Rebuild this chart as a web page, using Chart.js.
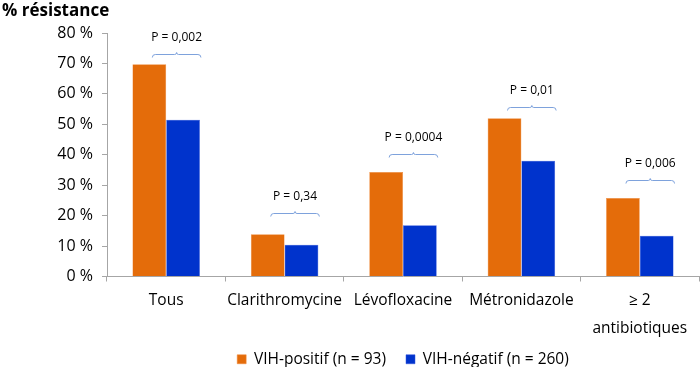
<!DOCTYPE html>
<html><head><meta charset="utf-8">
<script src="https://cdn.jsdelivr.net/npm/chart.js@4/dist/chart.umd.min.js"></script>
<style>html,body{margin:0;padding:0;background:#fff}#wrap{width:700px;height:367px}</style>
</head><body><div id="wrap"><canvas id="c"></canvas></div>
<script>
const categories = ['Tous', 'Clarithromycine', 'Lévofloxacine', 'Métronidazole', ['≥ 2', 'antibiotiques']];
const vihPositif = [69.7, 13.9, 34.3, 52.0, 25.8];
const vihNegatif = [51.5, 10.4, 16.8, 38.0, 13.4];
const seriesNames = ['VIH-positif (n = 93)', 'VIH-négatif (n = 260)'];
const pLabels = ['P = 0,002', 'P = 0,34', 'P = 0,0004', 'P = 0,01', 'P = 0,006'];
const pLevels = [73, 20.8, 40.3, 55.8, 31.6];
const yTicks = [0, 10, 20, 30, 40, 50, 60, 70, 80];
const yTitle = '% résistance';

const FONT = '"Open Sans", "Noto Sans", sans-serif';
const ORANGE = '#E46C0A', BLUE = '#0033CC', AXIS = '#A6A6A6', BRACKET = '#7EA2DC';

const annot = {
  id: 'annot',
  afterLayout(chart) {
    const lg = chart.legend;
    if (lg) { lg.top -= 7; lg.bottom -= 7; }
  },
  afterDatasetsDraw(chart) {
    const ctx = chart.ctx, y = chart.scales.y;
    const m0 = chart.getDatasetMeta(0), m1 = chart.getDatasetMeta(1);
    ctx.save();
    categories.forEach((c, i) => {
      const b0 = m0.data[i], b1 = m1.data[i];
      const x1 = b0.x + 3, x2 = b1.x + b1.width / 2 + 1, xm = (x1 + x2) / 2;
      const yy = Math.round(y.getPixelForValue(pLevels[i])) + 0.5;
      ctx.strokeStyle = BRACKET; ctx.lineWidth = 1;
      ctx.beginPath();
      ctx.moveTo(x1, yy + 3);
      ctx.quadraticCurveTo(x1, yy, x1 + 3, yy);
      ctx.lineTo(xm - 2, yy);
      ctx.quadraticCurveTo(xm, yy, xm, yy - 2);
      ctx.quadraticCurveTo(xm, yy, xm + 2, yy);
      ctx.lineTo(x2 - 3, yy);
      ctx.quadraticCurveTo(x2, yy, x2, yy + 3);
      ctx.stroke();
      ctx.fillStyle = '#000';
      ctx.font = '12px ' + FONT;
      ctx.textAlign = 'center'; ctx.textBaseline = 'middle';
      ctx.fillText(pLabels[i], xm, yy - 17);
    });
    ctx.font = 'bold 17px ' + FONT;
    ctx.textAlign = 'left'; ctx.textBaseline = 'middle';
    ctx.fillStyle = '#000';
    ctx.fillText(yTitle, 2, 11);
    ctx.restore();
  }
};

new Chart(document.getElementById('c'), {
  type: 'bar',
  data: {
    labels: categories,
    datasets: [
      { label: seriesNames[0], data: vihPositif, backgroundColor: ORANGE, borderColor: '#F08A3A', borderWidth: 0.5 },
      { label: seriesNames[1], data: vihNegatif, backgroundColor: BLUE, borderColor: '#3355DD', borderWidth: 0.5 }
    ]
  },
  options: {
    responsive: true, maintainAspectRatio: false, animation: false,
    datasets: { bar: { categoryPercentage: 0.57, barPercentage: 1 } },
    layout: { padding: { top: 33, right: 1, left: 0, bottom: -17 } },
    plugins: {
      tooltip: { enabled: false },
      legend: {
        position: 'bottom', fullSize: false,
        labels: { boxWidth: 9, boxHeight: 9, padding: 20, color: '#000', font: { family: FONT, size: 15.5 } }
      }
    },
    scales: {
      x: {
        grid: { display: true, drawOnChartArea: false, drawTicks: true, tickLength: 5, color: AXIS, offset: true },
        border: { color: AXIS, width: 1 },
        ticks: { color: '#000', padding: 6, maxRotation: 0, autoSkip: false, font: { family: FONT, size: 15.5, lineHeight: 1.75 } },
        afterFit(s) { s.height = 62; }
      },
      y: {
        min: 0, max: 80,
        afterBuildTicks(s) { s.ticks = yTicks.map(v => ({ value: v })); },
        grid: { display: true, drawOnChartArea: false, drawTicks: true, tickLength: 5, color: AXIS },
        border: { color: AXIS, width: 1 },
        ticks: { color: '#000', padding: 9, callback: v => v + ' %', font: { family: FONT, size: 16 } },
        afterFit(s) { s.width = 107; }
      }
    }
  },
  plugins: [annot]
});
</script>
</body></html>
